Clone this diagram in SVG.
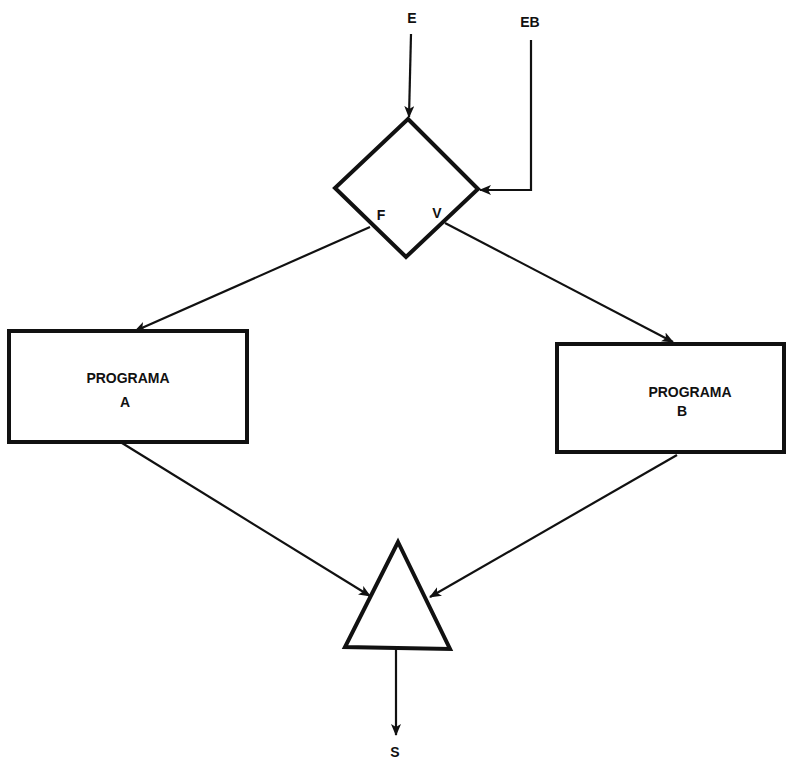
<svg xmlns="http://www.w3.org/2000/svg" width="786" height="765" viewBox="0 0 786 765">
  <style>
    .shape { fill: #fff; stroke: #111; stroke-width: 4; stroke-linejoin: miter; }
    .wire { fill: none; stroke: #111; stroke-width: 2.2; }
    .lbl { font-family: "Liberation Sans", Arial, sans-serif; font-weight: bold; font-size: 14px; fill: #111; text-anchor: middle; }
  </style>
  <defs>
    <marker id="arrow" viewBox="0 0 12 10" refX="11" refY="5" markerWidth="12" markerHeight="10" markerUnits="userSpaceOnUse" orient="auto">
      <path d="M0,0 L12,5 L0,10 L3,5 Z" fill="#111"/>
    </marker>
  </defs>
  <rect width="786" height="765" fill="#fff"/>

  <g id="connectors">
    <path class="wire" d="M411,34 L409,117" marker-end="url(#arrow)"/>
    <path class="wire" d="M531,40 L531,190 L480,190" marker-end="url(#arrow)"/>
    <path class="wire" d="M370,227 L135,331" marker-end="url(#arrow)"/>
    <path class="wire" d="M445,223 L673,342" marker-end="url(#arrow)"/>
    <path class="wire" d="M122,443 L370,596" marker-end="url(#arrow)"/>
    <path class="wire" d="M677,455 L430,597" marker-end="url(#arrow)"/>
    <path class="wire" d="M396,649 L396,735" marker-end="url(#arrow)"/>
  </g>

  <g id="input-e">
    <text class="lbl" x="412" y="23">E</text>
  </g>
  <g id="input-eb">
    <text class="lbl" x="530" y="27">EB</text>
  </g>

  <g id="decision">
    <polygon class="shape" points="408,119 478,189 406,257 335,188"/>
    <text class="lbl" x="381" y="220">F</text>
    <text class="lbl" x="437" y="218">V</text>
  </g>

  <g id="programa-a">
    <rect class="shape" x="9" y="331" width="238" height="111"/>
    <text class="lbl" x="128" y="383">PROGRAMA</text>
    <text class="lbl" x="125" y="407">A</text>
  </g>

  <g id="programa-b">
    <rect class="shape" x="557" y="344" width="227" height="108"/>
    <text class="lbl" x="690" y="397">PROGRAMA</text>
    <text class="lbl" x="682" y="416">B</text>
  </g>

  <g id="merge">
    <polygon class="shape" points="398,542 450,649 345,647"/>
  </g>

  <g id="output-s">
    <text class="lbl" x="395" y="757">S</text>
  </g>
</svg>
